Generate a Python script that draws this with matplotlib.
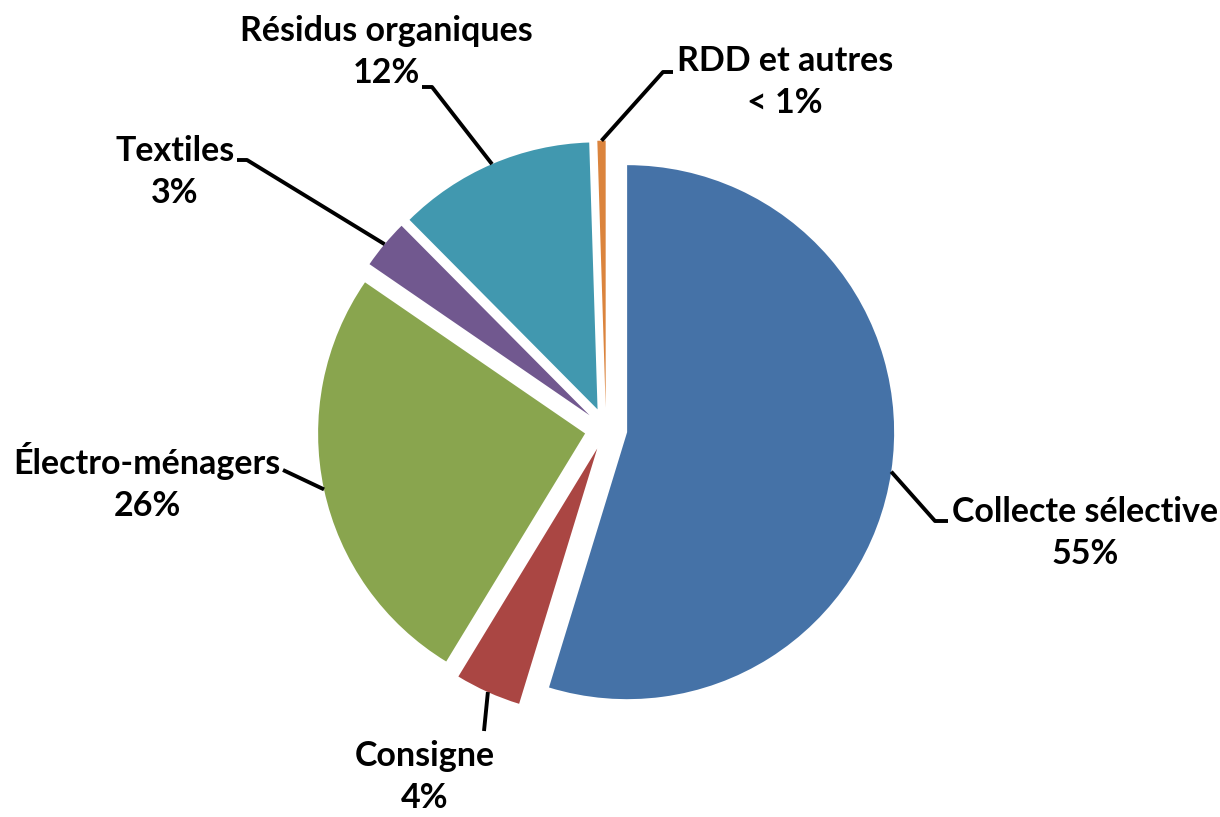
import numpy as np
import matplotlib.pyplot as plt

# DATA

categories = ['Collecte sélective', 'Consigne', 'Électro-ménagers', 'Textiles',
              'Résidus organiques', 'RDD et autres']
values = [55, 4, 26, 3, 12, 0.5]
pct_labels = ['55%', '4%', '26%', '3%', '12%', '< 1%']
colors = ['#4572A7', '#AA4643', '#89A54E', '#71588F', '#4198AF', '#DB843D']

# label layout (pixel-like coordinates, y going up)
label_pos = [(1085, 284), (425, 40), (147, 335), (175, 645), (386, 765), (785, 735)]
leader_pts = [[(935, 296), (948, 296)],
              [(484, 86)],
              [(283, 347)],
              [(247, 657), (237, 657)],
              [(432, 730), (422, 730)],
              [(663, 745), (673, 745)]]

# FIGURE

W, H = 1220, 817
R = 267
fig = plt.figure(figsize=(12.2, 8.17), dpi=100)
ax = fig.add_axes([0, 0, 1, 1])

# explode is in data units here, so scale it with the radius
wedges, _ = ax.pie(values, colors=colors, startangle=90, counterclock=False,
                   explode=[0.08 * R] * len(values), radius=R, center=(606, H - 429),
                   wedgeprops=dict(linewidth=0))
ax.set_xlim(0, W)
ax.set_ylim(0, H)
ax.set_aspect('equal')
ax.axis('off')

for w, name, pct, pos, pts in zip(wedges, categories, pct_labels, label_pos, leader_pts):
    # anchor leader line on the middle of the wedge arc
    mid = np.deg2rad((w.theta1 + w.theta2) / 2)
    ax0 = w.center[0] + w.r * np.cos(mid)
    ay0 = w.center[1] + w.r * np.sin(mid)
    xs = [ax0] + [p[0] for p in pts]
    ys = [ay0] + [p[1] for p in pts]
    ax.plot(xs, ys, color='black', lw=2.8, solid_capstyle='butt')
    ax.text(pos[0], pos[1], name + '\n' + pct, ha='center', va='center',
            fontsize=24.5, fontfamily='Lato', fontweight='bold', linespacing=1.42)

fig.savefig('out.png', dpi=100)
